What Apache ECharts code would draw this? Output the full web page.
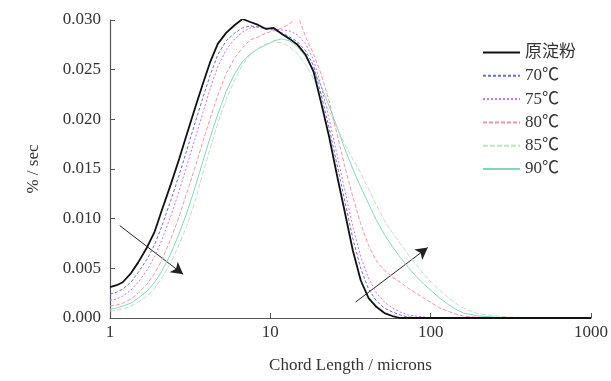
<!DOCTYPE html>
<html>
<head>
<meta charset="utf-8">
<script src="https://cdn.jsdelivr.net/npm/echarts@6/dist/echarts.min.js"></script>
<style>
  html, body { margin: 0; padding: 0; background: #fff; }
  #main { width: 611px; height: 381px; }
</style>
</head>
<body>
<div id="main"></div>
<script>
var chart = echarts.init(document.getElementById('main'), null, { renderer: 'canvas' });

// chord length (microns)
var chordLen = [1, 1.1, 1.2, 1.35, 1.5, 1.7, 1.9, 2.1, 2.4, 2.7, 3, 3.4, 3.8, 4.2, 4.7, 5.3, 6, 6.7, 7.5, 8.4,
  9.4, 10.5, 11.8, 13.2, 14.8, 16.6, 18.6, 20.8, 23.3, 26.1, 29.2, 32.7, 36.6, 41, 46, 51.5, 57.7, 64.6, 72.4, 81,
  90.8, 101.7, 113.9, 127.6, 142.9, 160, 200, 300, 500, 1000];

var names = ['原淀粉', '70℃', '75℃', '80℃', '85℃', '90℃'];

var raw = [0.0031, 0.0033, 0.0036, 0.0045, 0.0056, 0.0071, 0.0087, 0.0108, 0.0135, 0.0160, 0.0184, 0.0212, 0.0236, 0.0257, 0.0276, 0.0287, 0.0295, 0.0301, 0.0298, 0.0295,
  0.0291, 0.0292, 0.0286, 0.0281, 0.0275, 0.0265, 0.0248, 0.0216, 0.0182, 0.0143, 0.0106, 0.0068, 0.0038, 0.0020, 0.0011, 0.0005, 0.0002, 0, 0, 0,
  0, 0, 0, 0, 0, 0, 0, 0, 0, 0];
var t70 = [0.0024, 0.0026, 0.0029, 0.0036, 0.0046, 0.0059, 0.0074, 0.0092, 0.0119, 0.0144, 0.0168, 0.0197, 0.0222, 0.0244, 0.0265, 0.0279, 0.0287, 0.0292, 0.0294, 0.0293,
  0.0291, 0.0290, 0.0287, 0.0283, 0.0278, 0.0269, 0.0254, 0.0224, 0.0191, 0.0154, 0.0117, 0.0080, 0.0050, 0.0029, 0.0017, 0.0010, 0.0006, 0.0003, 0.0001, 0.00005,
  0, 0, 0, 0, 0, 0, 0, 0, 0, 0];
var t75 = [0.0018, 0.0019, 0.0022, 0.0028, 0.0036, 0.0048, 0.0062, 0.0078, 0.0103, 0.0128, 0.0152, 0.0181, 0.0207, 0.0230, 0.0253, 0.0270, 0.0281, 0.0288, 0.0292, 0.0293,
  0.0292, 0.0291, 0.0290, 0.0289, 0.0285, 0.0276, 0.0260, 0.0233, 0.0200, 0.0164, 0.0128, 0.0092, 0.0062, 0.0040, 0.0025, 0.0016, 0.0010, 0.0006, 0.0003, 0.0002,
  0.0001, 0, 0, 0, 0, 0, 0, 0, 0, 0];
var t80 = [0.0012, 0.0013, 0.0015, 0.0019, 0.0025, 0.0034, 0.0045, 0.0058, 0.0080, 0.0102, 0.0125, 0.0152, 0.0178, 0.0200, 0.0224, 0.0246, 0.0262, 0.0272, 0.0280, 0.0283,
  0.0287, 0.0289, 0.0292, 0.0296, 0.0305, 0.0283, 0.0266, 0.0245, 0.0218, 0.0185, 0.0152, 0.0122, 0.0095, 0.0073, 0.0057, 0.0048, 0.0041, 0.0036, 0.0030, 0.0025,
  0.0020, 0.0015, 0.0010, 0.0007, 0.0004, 0.0002, 0.00005, 0, 0, 0];
var t85 = [0.0007, 0.0008, 0.0009, 0.0012, 0.0016, 0.0022, 0.0030, 0.0040, 0.0056, 0.0074, 0.0092, 0.0118, 0.0146, 0.0170, 0.0196, 0.0220, 0.0240, 0.0255, 0.0265, 0.0272,
  0.0276, 0.0278, 0.0277, 0.0273, 0.0266, 0.0255, 0.0241, 0.0225, 0.0208, 0.0191, 0.0175, 0.0160, 0.0146, 0.0130, 0.0113, 0.0098, 0.0086, 0.0075, 0.0064, 0.0054,
  0.0044, 0.0035, 0.0028, 0.0021, 0.0015, 0.0010, 0.0004, 0.0001, 0, 0];
var t90 = [0.0009, 0.0010, 0.0012, 0.0015, 0.0020, 0.0027, 0.0036, 0.0047, 0.0065, 0.0085, 0.0105, 0.0132, 0.0158, 0.0181, 0.0205, 0.0228, 0.0246, 0.0258, 0.0266, 0.0271,
  0.0275, 0.0279, 0.0281, 0.0279, 0.0273, 0.0263, 0.0250, 0.0233, 0.0213, 0.0192, 0.0170, 0.0150, 0.0132, 0.0115, 0.0098, 0.0084, 0.0072, 0.0061, 0.0051, 0.0042,
  0.0034, 0.0027, 0.0020, 0.0014, 0.0009, 0.0005, 0.0002, 0, 0, 0];

// arrows [x, y] start -> end, in data units
var arrowLeft = [[1.15, 0.0093], [2.86, 0.0044]];
var arrowRight = [[34, 0.0016], [96, 0.0071]];

var yTicks = [0, 0.005, 0.01, 0.015, 0.02, 0.025, 0.03];

var allData = [raw, t70, t75, t80, t85, t90];
var colors = ['#111111', '#6270d0', '#d070e4', '#f096a6', '#bfe2c2', '#86d6bd'];
var widths = [1.8, 1, 1, 1, 1, 1];
var dashes = ['solid', [3, 2], [2, 2], [4, 2], [5, 2], 'solid'];

var font = "'Liberation Serif', 'Noto Sans CJK SC', serif";

function pairs(ys) {
    return chordLen.map(function (x, i) { return [x, ys[i]]; });
}

var series = allData.map(function (ys, i) {
    var s = {
        name: names[i],
        type: 'line',
        symbol: 'none',
        z: 10 - i,
        lineStyle: { color: colors[i], width: widths[i], type: dashes[i] },
        itemStyle: { color: colors[i] },
        data: pairs(ys)
    };
    if (i === 0) {
        s.markLine = {
            silent: true,
            symbol: ['none', 'arrow'],
            symbolSize: [10, 12],
            lineStyle: { color: '#222', width: 1, type: 'solid' },
            label: { show: false },
            data: [
                [{ coord: arrowLeft[0] }, { coord: arrowLeft[1] }],
                [{ coord: arrowRight[0] }, { coord: arrowRight[1] }]
            ]
        };
    }
    return s;
});

var option = {
    backgroundColor: '#fff',
    animation: false,
    textStyle: { fontFamily: font },
    grid: { left: 110, right: 19, top: 20, bottom: 63 },
    legend: {
        orient: 'vertical',
        left: 477,
        top: 39,
        itemWidth: 37,
        itemHeight: 17,
        itemGap: 6.3,
        data: names,
        itemStyle: { opacity: 0 },
        textStyle: { fontFamily: font, fontSize: 17, color: '#333' }
    },
    xAxis: {
        type: 'log',
        logBase: 10,
        min: 1,
        max: 1000,
        name: 'Chord Length / microns',
        nameLocation: 'middle',
        nameGap: 39,
        nameTextStyle: { fontFamily: font, fontSize: 17, color: '#333' },
        axisLine: { lineStyle: { color: '#555', width: 1.2 } },
        axisTick: { inside: true, length: 5, lineStyle: { color: '#555' } },
        minorTick: { show: false },
        splitLine: { show: false },
        axisLabel: {
            fontFamily: font, fontSize: 17, color: '#333', margin: 6,
            formatter: function (v) { return String(v); }
        }
    },
    yAxis: {
        type: 'value',
        min: yTicks[0],
        max: yTicks[yTicks.length - 1],
        interval: 0.005,
        name: '% / sec',
        nameLocation: 'middle',
        nameGap: 68,
        nameRotate: 90,
        nameTextStyle: { fontFamily: font, fontSize: 17, color: '#333' },
        axisLine: { show: true, lineStyle: { color: '#555', width: 1.2 } },
        axisTick: { show: true, inside: true, length: 5, lineStyle: { color: '#555' } },
        splitLine: { show: false },
        axisLabel: {
            fontFamily: font, fontSize: 17, color: '#333', margin: 9,
            formatter: function (v) { return v.toFixed(3); }
        }
    },
    series: series
};

chart.setOption(option);
window.addEventListener('resize', chart.resize);
</script>
</body>
</html>
